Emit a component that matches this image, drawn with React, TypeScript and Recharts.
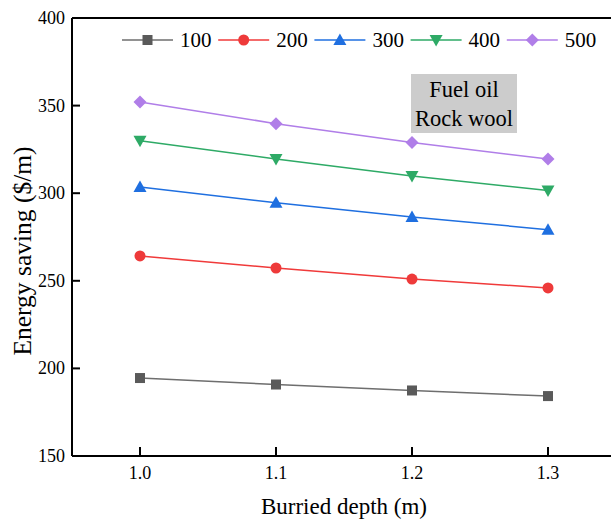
import React from 'react';
import { LineChart, Line, XAxis, YAxis, ReferenceLine } from 'recharts';

const depths = [1.0, 1.1, 1.2, 1.3];
const s100 = [194.5, 190.8, 187.4, 184.2];
const s200 = [264.2, 257.3, 251.0, 245.9];
const s300 = [303.5, 294.5, 286.4, 279.2];
const s400 = [330.0, 319.5, 309.8, 301.5];
const s500 = [352.1, 339.7, 328.9, 319.5];
const xTicks = [1.0, 1.1, 1.2, 1.3];
const yTicks = [150, 200, 250, 300, 350, 400];

const data = depths.map((d, i) => ({
    depth: d, s100: s100[i], s200: s200[i], s300: s300[i], s400: s400[i], s500: s500[i],
}));

const series = [
    { key: 's100', name: '100', line: '#6e6e6e', fill: '#5a5a5a', shape: 'square' },
    { key: 's200', name: '200', line: '#f03a3a', fill: '#ee3a3a', shape: 'circle' },
    { key: 's300', name: '300', line: '#1f6fe0', fill: '#1f6fe0', shape: 'up' },
    { key: 's400', name: '400', line: '#2eaa66', fill: '#2eaa66', shape: 'down' },
    { key: 's500', name: '500', line: '#b07ee8', fill: '#b07ee8', shape: 'diamond' },
];

const W = 640;
const H = 521;
const PLOT_LEFT = 72;
const PLOT_TOP = 18;
const PLOT_RIGHT = 616;
const PLOT_BOTTOM = 456;
const FONT = '"Liberation Serif", "Times New Roman", serif';

const Marker = ({ shape, color, cx, cy }: any) => {
    if (cx == null || cy == null) return null;
    switch (shape) {
        case 'square': return <rect x={cx - 5} y={cy - 5} width={10} height={10} fill={color} />;
        case 'circle': return <circle cx={cx} cy={cy} r={5.5} fill={color} />;
        case 'up': return <polygon points={`${cx},${cy - 6.5} ${cx + 6.5},${cy + 5} ${cx - 6.5},${cy + 5}`} fill={color} />;
        case 'down': return <polygon points={`${cx},${cy + 6.5} ${cx + 6.5},${cy - 5} ${cx - 6.5},${cy - 5}`} fill={color} />;
        case 'diamond': return <polygon points={`${cx},${cy - 6.5} ${cx + 6.5},${cy} ${cx},${cy + 6.5} ${cx - 6.5},${cy}`} fill={color} />;
        default: return null;
    }
};

const XTick = ({ x, payload }: any) => (
    <g>
        <line x1={x} x2={x} y1={PLOT_BOTTOM} y2={PLOT_BOTTOM - 9} stroke="#000" strokeWidth={2} />
        <text x={x} y={PLOT_BOTTOM + 23} textAnchor="middle" fontSize={18} fill="#000" fontFamily={FONT}>
            {Number(payload.value).toFixed(1)}
        </text>
    </g>
);

const YTick = ({ y, payload }: any) => (
    <g>
        <line x1={PLOT_LEFT} x2={PLOT_LEFT + 8} y1={y} y2={y} stroke="#000" strokeWidth={2} />
        <text x={PLOT_LEFT - 7} y={y + 6} textAnchor="end" fontSize={18} fill="#000" fontFamily={FONT}>
            {payload.value}
        </text>
    </g>
);

const LegendBar = () => (
    <svg width={611} height={30} style={{ position: 'absolute', left: 0, top: 26 }}>
        {series.map((s, i) => {
            const x0 = 122 + i * 96.2;
            return (
                <g key={s.key}>
                    <line x1={x0} x2={x0 + 51} y1={14} y2={14} stroke={s.line} strokeWidth={1.5} />
                    <Marker shape={s.shape} color={s.fill} cx={x0 + 25.5} cy={14} />
                    <text x={x0 + 58} y={21} fontSize={21} fontFamily={FONT} fill="#000">{s.name}</text>
                </g>
            );
        })}
    </svg>
);

export default function App() {
    return (
        <div style={{ position: 'absolute', left: 0, top: 0, width: 611, height: 521, overflow: 'hidden', background: '#fff', fontFamily: FONT }}>
            <LineChart
                width={W}
                height={H}
                data={data}
                margin={{ top: PLOT_TOP, right: W - PLOT_RIGHT, bottom: 25, left: 12 }}
            >
                <XAxis
                    dataKey="depth"
                    type="number"
                    domain={[0.95, 1.35]}
                    ticks={xTicks}
                    allowDataOverflow
                    height={H - PLOT_BOTTOM - 25}
                    axisLine={{ stroke: '#000', strokeWidth: 2 }}
                    tickLine={false}
                    tick={<XTick />}
                    interval={0}
                />
                <YAxis
                    type="number"
                    domain={[150, 400]}
                    ticks={yTicks}
                    width={PLOT_LEFT - 12}
                    axisLine={{ stroke: '#000', strokeWidth: 2 }}
                    tickLine={false}
                    tick={<YTick />}
                    interval={0}
                />
                <ReferenceLine y={400} stroke="#000" strokeWidth={2} />
                {series.map(s => (
                    <Line
                        key={s.key}
                        dataKey={s.key}
                        name={s.name}
                        stroke={s.line}
                        strokeWidth={1.5}
                        isAnimationActive={false}
                        dot={(p: any) => <Marker key={`${s.key}-${p.index}`} shape={s.shape} color={s.fill} cx={p.cx} cy={p.cy} />}
                        activeDot={false}
                    />
                ))}
            </LineChart>
            <LegendBar />
            <div style={{
                position: 'absolute', left: 411, top: 74, width: 106, height: 59, background: '#cccccc',
                fontSize: 22.5, lineHeight: '29px', textAlign: 'center', color: '#000', paddingTop: 1, boxSizing: 'border-box',
            }}>
                Fuel oil<br />Rock wool
            </div>
            <div style={{ position: 'absolute', left: 0, top: 494, width: 688, textAlign: 'center', fontSize: 23 }}>
                Burried depth (m)
            </div>
            <div style={{
                position: 'absolute', left: 23, top: 251, transform: 'translate(-50%, -50%) rotate(-90deg)',
                whiteSpace: 'nowrap', fontSize: 25.5,
            }}>
                Energy saving ($/m)
            </div>
        </div>
    );
}
